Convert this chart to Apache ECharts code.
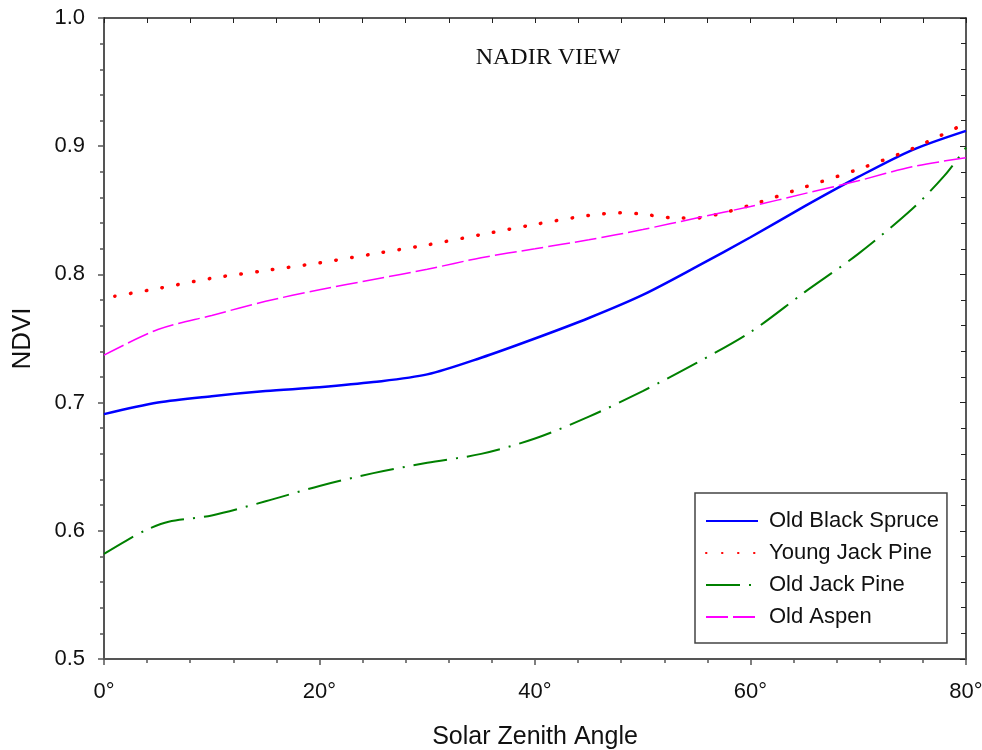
<!DOCTYPE html>
<html>
<head>
<meta charset="utf-8">
<script src="https://cdn.jsdelivr.net/npm/echarts@6/dist/echarts.min.js"></script>
<style>
html,body{margin:0;padding:0;background:#fff;}
#chart{width:982px;height:750px;}
</style>
</head>
<body>
<div id="chart"></div>
<script>
// Solar zenith angle (degrees) and NDVI values
const blackSpruceAngles = [0, 5, 10, 15, 20, 25, 30, 35, 40, 45, 50, 55, 60, 65, 70, 75, 80];
const blackSpruceNdvi   = [0.691, 0.700, 0.705, 0.709, 0.712, 0.716, 0.722, 0.735, 0.750, 0.766, 0.784, 0.806, 0.829, 0.853, 0.876, 0.897, 0.912];

const youngJackAngles = [1, 5, 10, 15, 20, 25, 30, 35, 40, 45, 48, 50, 53, 55, 57, 60, 65, 70, 75, 80];
const youngJackNdvi   = [0.783, 0.789, 0.797, 0.803, 0.809, 0.816, 0.823, 0.831, 0.839, 0.846, 0.848, 0.847, 0.844, 0.844, 0.847, 0.854, 0.868, 0.882, 0.898, 0.918];

const oldJackAngles = [0, 2, 4, 6, 10, 15, 20, 25, 30, 35, 40, 45, 50, 55, 60, 65, 70, 75, 78, 80];
const oldJackNdvi   = [0.582, 0.592, 0.601, 0.607, 0.612, 0.623, 0.635, 0.645, 0.653, 0.660, 0.672, 0.689, 0.709, 0.731, 0.755, 0.786, 0.816, 0.851, 0.877, 0.899];

const aspenAngles = [0, 5, 10, 15, 20, 25, 30, 35, 40, 45, 50, 55, 60, 65, 70, 75, 80];
const aspenNdvi   = [0.737, 0.757, 0.768, 0.779, 0.788, 0.796, 0.804, 0.813, 0.820, 0.827, 0.835, 0.844, 0.853, 0.863, 0.873, 0.884, 0.891];

const seriesNames = ['Old Black Spruce', 'Young Jack Pine', 'Old Jack Pine', 'Old Aspen'];
const chartTitle = 'NADIR VIEW';
const xAxisName = 'Solar Zenith Angle';
const yAxisName = 'NDVI';

function pairs(xs, ys) { return xs.map((x, i) => [x, ys[i]]); }

const chart = echarts.init(document.getElementById('chart'));
const axisColor = '#555';
const baseFont = 'Liberation Sans, Arial, sans-serif';

chart.setOption({
  backgroundColor: '#fff',
  animation: false,
  title: {
    text: chartTitle,
    left: 543, top: 41, textAlign: 'center',
    textStyle: { fontFamily: 'Liberation Serif, Times New Roman, serif', fontSize: 24, fontWeight: 'normal', color: '#111' }
  },
  grid: { left: 104, right: 16, top: 18, bottom: 91, containLabel: false, outerBoundsMode: 'none' },
  legend: {
    orient: 'vertical',
    left: 695, top: 493,
    padding: [17, 8, 15, 10],
    itemGap: 10,
    itemWidth: 52, itemHeight: 14,
    borderColor: '#444', borderWidth: 1.5,
    backgroundColor: '#fff',
    itemStyle: { opacity: 0 },
    textStyle: { fontFamily: baseFont, fontSize: 22, color: '#111', padding: [0, 0, 0, 6] },
    data: seriesNames
  },
  xAxis: [{
    type: 'value', min: 0, max: 80, interval: 20,
    name: xAxisName, nameLocation: 'middle', nameGap: 66,
    nameTextStyle: { fontFamily: baseFont, fontSize: 25, color: '#111' },
    axisLine: { show: true, onZero: false, lineStyle: { color: axisColor, width: 2 } },
    axisTick: { show: true, inside: false, length: 6, lineStyle: { color: axisColor, width: 1.5 } },
    minorTick: { show: true, splitNumber: 5, length: 4, lineStyle: { color: axisColor, width: 1.5 } },
    splitLine: { show: false },
    axisLabel: { margin: 22, fontFamily: baseFont, fontSize: 22, color: '#111', formatter: v => v + '°' }
  }, {
    type: 'value', min: 0, max: 80, interval: 20, position: 'top',
    axisLine: { show: true, onZero: false, lineStyle: { color: '#222', width: 1.5 } },
    axisTick: { show: true, inside: true, length: 5, lineStyle: { color: '#222', width: 1 } },
    minorTick: { show: true, splitNumber: 5, length: 5, lineStyle: { color: '#222', width: 1 } },
    splitLine: { show: false },
    axisLabel: { show: false }
  }],
  yAxis: [{
    type: 'value', min: 0.5, max: 1.0, interval: 0.1,
    name: yAxisName, nameLocation: 'middle', nameGap: 68, nameRotate: 90,
    nameTextStyle: { fontFamily: baseFont, fontSize: 26, color: '#111' },
    axisLine: { show: true, onZero: false, lineStyle: { color: axisColor, width: 2 } },
    axisTick: { show: true, inside: false, length: 6, lineStyle: { color: axisColor, width: 1.5 } },
    minorTick: { show: true, splitNumber: 5, length: 4, lineStyle: { color: axisColor, width: 1.5 } },
    splitLine: { show: false },
    axisLabel: { margin: 19, fontFamily: baseFont, fontSize: 22, color: '#111', formatter: v => v.toFixed(1) }
  }, {
    type: 'value', min: 0.5, max: 1.0, interval: 0.1, position: 'right',
    axisLine: { show: true, onZero: false, lineStyle: { color: '#222', width: 1.5 } },
    axisTick: { show: true, inside: true, length: 6, lineStyle: { color: '#222', width: 1 } },
    minorTick: { show: true, splitNumber: 5, length: 5, lineStyle: { color: '#222', width: 1 } },
    splitLine: { show: false },
    axisLabel: { show: false }
  }],
  series: [
    {
      name: seriesNames[0], type: 'line', smooth: 0.3, symbol: 'none',
      data: pairs(blackSpruceAngles, blackSpruceNdvi),
      itemStyle: { color: '#0000ff' },
      lineStyle: { color: '#0000ff', width: 2.5 }
    },
    {
      name: seriesNames[1], type: 'line', smooth: 0.3, symbol: 'none',
      data: pairs(youngJackAngles, youngJackNdvi),
      itemStyle: { color: '#ff0000' },
      lineStyle: { color: '#ff0000', width: 3.5, type: [0.5, 15.5], cap: 'round' }
    },
    {
      name: seriesNames[2], type: 'line', smooth: 0.3, symbol: 'none',
      data: pairs(oldJackAngles, oldJackNdvi),
      itemStyle: { color: '#008000' },
      lineStyle: { color: '#008000', width: 2, type: [34, 9, 2, 9] }
    },
    {
      name: seriesNames[3], type: 'line', smooth: 0.3, symbol: 'none',
      data: pairs(aspenAngles, aspenNdvi),
      itemStyle: { color: '#ff00ff' },
      lineStyle: { color: '#ff00ff', width: 1.5, type: [22, 5] }
    }
  ]
});
</script>
</body>
</html>
